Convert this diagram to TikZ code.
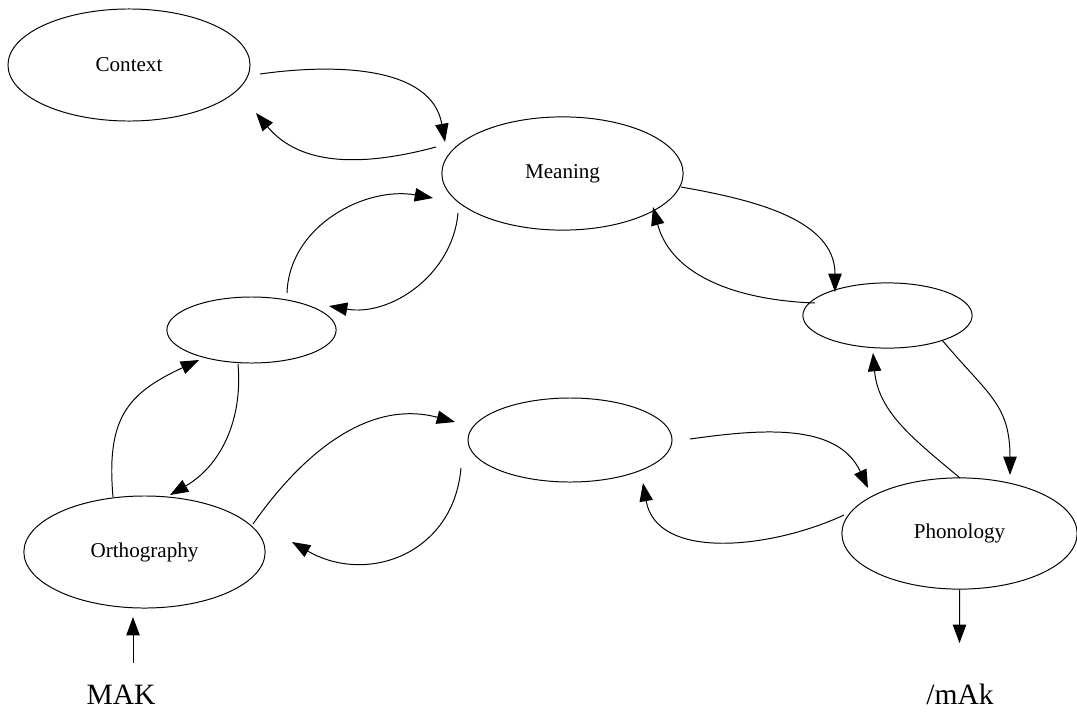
\documentclass[tikz,border=0pt]{standalone}
\usepackage{fontspec}
\setmainfont{Liberation Serif}
\usetikzlibrary{shapes.geometric,arrows.meta}

\tikzset{
	stage/.style={shape=ellipse, draw=black, line width=0.7pt, inner sep=0pt, font=\fontsize{15}{18}\selectfont},
	link/.style={line width=0.7pt, -{Triangle[length=13pt,width=9.5pt]}},
	word/.style={font=\fontsize{21}{25}\selectfont, inner sep=0pt},
}

\begin{document}
\begin{tikzpicture}[x=0.025cm, y=0.025cm]
	\useasboundingbox (0,0) rectangle (1077,-711);
	
	\node[stage, minimum width=6.05cm, minimum height=2.80cm] (ctx)  at (129,-65)      {Context};
	\node[stage, minimum width=6.03cm, minimum height=2.83cm] (mean) at (562.5,-173.5) {Meaning};
	\node[stage, minimum width=4.23cm, minimum height=1.65cm] (hidL) at (251.5,-330)   {};
	\node[stage, minimum width=4.23cm, minimum height=1.63cm] (hidR) at (887.5,-315.5) {};
	\node[stage, minimum width=5.10cm, minimum height=2.10cm] (hidM) at (570,-440)     {};
	\node[stage, minimum width=6.03cm, minimum height=2.80cm] (orth) at (144.5,-552)   {Orthography};
	\node[stage, minimum width=5.88cm, minimum height=2.78cm] (phon) at (959.5,-533.5) {Phonology};
	
	\node[word] (input)  at (121,-695) {MAK};
	\node[word] (output) at (960,-694) {/mAk};
	
	% context <-> meaning
	\draw[link] ([shift={(131,-9)}]ctx.center) to[out=8,in=100] ([shift={(-117.5,31.5)}]mean.center);
	\draw[link] ([shift={(-126.5,26.5)}]mean.center) to[out=195,in=-50] ([shift={(127,-48)}]ctx.center);
	
	% left hidden units
	\draw[link] ([shift={(35.5,37)}]hidL.center) to[out=88,in=170] ([shift={(-129.5,-24.5)}]mean.center);
	\draw[link] ([shift={(-104.5,-39.5)}]mean.center) to[out=-95,in=-10] ([shift={(77.5,24)}]hidL.center);
	\draw[link] ([shift={(-31.5,55)}]orth.center) to[out=95,in=-155,looseness=1.25] ([shift={(-52.5,-30)}]hidL.center);
	\draw[link] ([shift={(-13.5,-34)}]hidL.center) to[out=-85,in=30] ([shift={(25.5,57)}]orth.center);
	
	% middle hidden units
	\draw[link] ([shift={(108.5,28)}]orth.center) to[out=55,in=165] ([shift={(-115,18)}]hidM.center);
	\draw[link] ([shift={(-109,-28)}]hidM.center) to[out=-95,in=-30,looseness=1.2] ([shift={(147.5,10)}]orth.center);
	\draw[link] ([shift={(120,1)}]hidM.center) to[out=8,in=115] ([shift={(-91.5,45.5)}]phon.center);
	\draw[link] ([shift={(-115.5,18.5)}]phon.center) to[out=205,in=-80] ([shift={(73,-43)}]hidM.center);
	
	% right hidden units
	\draw[link] ([shift={(118.5,-13.5)}]mean.center) to[out=-10,in=90] ([shift={(-52.5,23.5)}]hidR.center);
	\draw[link] ([shift={(-72.5,12.5)}]hidR.center) to[out=178,in=-75] ([shift={(90.5,-33.5)}]mean.center);
	\draw[link] ([shift={(54.5,-24.5)}]hidR.center) to[out=-50,in=90,looseness=1.2] ([shift={(50.5,58.5)}]phon.center);
	\draw[link] ([shift={(0.5,55.5)}]phon.center) to[out=140,in=-85] ([shift={(-14.5,-37.5)}]hidR.center);
	
	% input and output
	\draw[link] ([shift={(12,32)}]input.center) -- ([shift={(-11.5,-65)}]orth.center);
	\draw[link] (phon.south) -- ([shift={(-0.5,51)}]output.center);
	
\end{tikzpicture}
\end{document}
